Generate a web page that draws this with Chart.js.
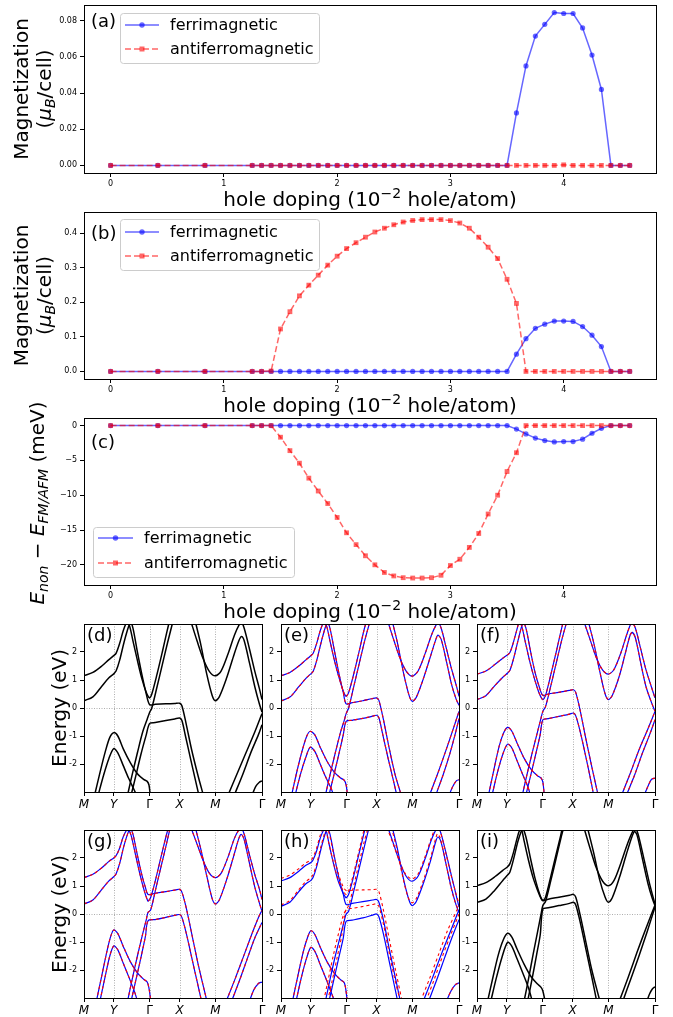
<!DOCTYPE html>
<html>
<head>
<meta charset="utf-8">
<script src="https://cdn.jsdelivr.net/npm/chart.js@4.4.0/dist/chart.umd.min.js"></script>
<style>
  body { margin: 0; background: #fff; width: 673px; height: 1017px; position: relative; overflow: hidden; }
  canvas { position: absolute; }
</style>
</head>
<body>
<script>
// ---- doping sweep (10^-2 hole/atom) ----
const hole = [0, 0.417, 0.833, 1.25, 1.333, 1.417, 1.5, 1.583, 1.667, 1.75, 1.833, 1.917, 2.0, 2.083,
  2.167, 2.25, 2.333, 2.417, 2.5, 2.583, 2.667, 2.75, 2.833, 2.917, 3.0, 3.083, 3.167, 3.25, 3.333,
  3.417, 3.5, 3.583, 3.667, 3.75, 3.833, 3.917, 4.0, 4.083, 4.167, 4.25, 4.333, 4.417, 4.5, 4.583];

// (a) magnetization
const magFerriA = [0, 0, 0, 0, 0, 0, 0, 0, 0, 0, 0, 0, 0, 0, 0, 0, 0, 0, 0, 0, 0, 0, 0, 0, 0, 0, 0, 0, 0, 0, 0,
  0.029, 0.055, 0.0715, 0.078, 0.0845, 0.084, 0.084, 0.076, 0.061, 0.042, 0, 0, 0];
const magAfmA = [0, 0, 0, 0, 0, 0, 0, 0, 0, 0, 0, 0, 0, 0, 0, 0, 0, 0, 0, 0, 0, 0, 0, 0, 0, 0, 0, 0, 0, 0, 0,
  0, 0, 0, 0, 0, 0.0003, 0, 0, 0, 0, 0, 0, 0];
// (b) magnetization
const magFerriB = [0, 0, 0, 0, 0, 0, 0, 0, 0, 0, 0, 0, 0, 0, 0, 0, 0, 0, 0, 0, 0, 0, 0, 0, 0, 0, 0, 0, 0, 0, 0,
  0.05, 0.095, 0.125, 0.137, 0.146, 0.146, 0.145, 0.13, 0.105, 0.072, 0, 0, 0];
const magAfmB = [0, 0, 0, 0, 0, 0.001, 0.123, 0.173, 0.219, 0.25, 0.279, 0.308, 0.334, 0.356, 0.373, 0.389,
  0.404, 0.415, 0.425, 0.433, 0.4375, 0.44, 0.44, 0.44, 0.437, 0.43, 0.415, 0.389, 0.36, 0.327, 0.267,
  0.197, 0, 0, 0, 0, 0, 0, 0, 0, 0, 0, 0, 0];
// (c) energy difference (meV)
const dEFerriC = [0, 0, 0, 0, 0, 0, 0, 0, 0, 0, 0, 0, 0, 0, 0, 0, 0, 0, 0, 0, 0, 0, 0, 0, 0, 0, 0, 0, 0, 0, 0,
  -0.5, -1.2, -1.8, -2.15, -2.35, -2.3, -2.3, -1.95, -1.1, -0.4, 0, 0, 0];
const dEAfmC = [0, 0, 0, 0, 0, 0, -1.67, -3.6, -5.4, -7.55, -9.4, -11.2, -13.2, -15.4, -17.1, -18.7, -20.0,
  -21.1, -21.6, -21.85, -21.9, -21.9, -21.85, -21.5, -20.1, -19.2, -17.5, -15.5, -12.7, -10.0, -6.6,
  -3.9, 0, 0, 0, 0, 0, 0, 0, 0, 0, 0, 0, 0];

const dopTicks = [0, 1, 2, 3, 4];
const magTicksA = [0, 0.02, 0.04, 0.06, 0.08];
const magTicksB = [0, 0.1, 0.2, 0.3, 0.4];
const dETicksC = [0, -5, -10, -15, -20];

// ---- band structures: k path fraction, energy (eV) ----
const kTicks = [0, 0.167, 0.369, 0.537, 0.738, 1];
const kLabels = ['M', 'Y', 'Γ', 'X', 'M', 'Γ'];
const eTicks = [-2, -1, 0, 1, 2];

const bandsD = [
  [[0,1.15],[0.05,1.27],[0.1,1.5],[0.14,1.73],[0.167,1.87],[0.18,1.95],[0.2,2.3],[0.22,2.75],[0.24,3.05],[0.255,2.95],[0.275,2.4],[0.3,1.7],[0.325,1.05],[0.35,0.55],[0.362,0.4],[0.369,0.36],[0.38,0.48],[0.41,1.2],[0.44,2.0],[0.465,2.7],[0.48,3.1]],
  [[0,0.26],[0.05,0.4],[0.1,0.78],[0.14,1.08],[0.167,1.22],[0.18,1.32],[0.2,1.7],[0.225,2.35],[0.25,2.9],[0.262,3.05],[0.275,2.85],[0.3,2.0],[0.325,1.2],[0.35,0.5],[0.369,0.12],[0.4,0.13],[0.46,0.15],[0.51,0.16],[0.537,0.17],[0.55,0.08],[0.575,-0.6],[0.605,-1.5],[0.64,-2.4],[0.67,-3.1]],
  [[0.245,-3.1],[0.27,-2.4],[0.3,-1.6],[0.33,-0.85],[0.355,-0.4],[0.369,-0.15],[0.38,-0.02],[0.41,0.75],[0.44,1.55],[0.47,2.35],[0.5,3.1]],
  [[0.265,-3.1],[0.29,-2.45],[0.32,-1.65],[0.35,-0.95],[0.369,-0.55],[0.4,-0.52],[0.46,-0.45],[0.51,-0.39],[0.537,-0.36],[0.55,-0.45],[0.57,-1.0],[0.6,-1.85],[0.625,-2.55],[0.645,-3.1]],
  [[0.06,-3.1],[0.09,-2.3],[0.12,-1.55],[0.145,-1.05],[0.167,-0.88],[0.19,-1.0],[0.22,-1.45],[0.26,-1.95],[0.3,-2.35],[0.335,-2.55],[0.355,-2.62],[0.365,-2.75],[0.372,-3.1]],
  [[0.08,-3.1],[0.11,-2.4],[0.14,-1.8],[0.167,-1.45],[0.19,-1.6],[0.22,-2.05],[0.25,-2.5],[0.28,-2.9],[0.295,-3.1]],
  [[0.6,3.1],[0.635,2.4],[0.67,1.75],[0.705,1.3],[0.738,1.15],[0.77,1.32],[0.81,1.95],[0.845,2.6],[0.87,2.95],[0.885,3.05],[0.9,2.85],[0.93,2.1],[0.96,1.3],[0.985,0.7],[1.0,0.3]],
  [[0.625,3.1],[0.655,2.3],[0.69,1.2],[0.72,0.45],[0.738,0.26],[0.76,0.4],[0.8,1.05],[0.84,1.85],[0.87,2.4],[0.885,2.55],[0.9,2.4],[0.93,1.6],[0.96,0.75],[0.985,0.15],[1.0,-0.15]],
  [[0.81,-3.1],[0.86,-2.35],[0.91,-1.6],[0.96,-0.85],[1.0,-0.2]],
  [[0.845,-3.1],[0.89,-2.4],[0.94,-1.55],[0.98,-0.95],[1.0,-0.6]],
  [[0.945,-3.1],[0.965,-2.8],[0.985,-2.65],[1.0,-2.6]]
];

const bandsE = [
  [[0,1.15],[0.05,1.27],[0.1,1.5],[0.14,1.72],[0.164,1.85],[0.18,1.95],[0.2,2.3],[0.22,2.75],[0.24,3.05],[0.255,2.95],[0.275,2.4],[0.3,1.7],[0.325,1.1],[0.35,0.6],[0.36,0.46],[0.366,0.42],[0.38,0.55],[0.41,1.25],[0.44,2.05],[0.465,2.75],[0.48,3.1]],
  [[0,0.25],[0.05,0.39],[0.1,0.76],[0.14,1.06],[0.164,1.2],[0.18,1.3],[0.2,1.68],[0.225,2.33],[0.25,2.9],[0.262,3.05],[0.275,2.85],[0.3,2.05],[0.325,1.25],[0.35,0.55],[0.366,0.15],[0.4,0.19],[0.46,0.26],[0.51,0.33],[0.537,0.36],[0.55,0.27],[0.575,-0.4],[0.605,-1.35],[0.64,-2.35],[0.675,-3.1]],
  [[0.25,-3.1],[0.275,-2.4],[0.305,-1.6],[0.335,-0.85],[0.355,-0.45],[0.366,-0.2],[0.38,0.0],[0.41,0.8],[0.44,1.6],[0.47,2.4],[0.5,3.1]],
  [[0.27,-3.1],[0.295,-2.45],[0.325,-1.65],[0.35,-0.95],[0.366,-0.48],[0.4,-0.44],[0.46,-0.37],[0.51,-0.3],[0.537,-0.26],[0.55,-0.35],[0.57,-0.9],[0.6,-1.75],[0.63,-2.55],[0.65,-3.1]],
  [[0.06,-3.1],[0.09,-2.25],[0.12,-1.5],[0.145,-1.0],[0.164,-0.83],[0.19,-0.96],[0.22,-1.4],[0.26,-1.92],[0.3,-2.3],[0.335,-2.5],[0.355,-2.58],[0.366,-2.75],[0.373,-3.1]],
  [[0.08,-3.1],[0.11,-2.35],[0.14,-1.75],[0.164,-1.4],[0.19,-1.55],[0.22,-2.0],[0.25,-2.45],[0.28,-2.85],[0.295,-3.1]],
  [[0.6,3.1],[0.635,2.4],[0.67,1.75],[0.705,1.3],[0.737,1.14],[0.77,1.32],[0.81,1.95],[0.845,2.6],[0.87,2.95],[0.882,3.05],[0.9,2.85],[0.93,2.1],[0.96,1.35],[0.985,0.8],[1.0,0.42]],
  [[0.625,3.1],[0.655,2.3],[0.69,1.2],[0.72,0.44],[0.737,0.24],[0.76,0.38],[0.8,1.05],[0.84,1.85],[0.87,2.45],[0.882,2.6],[0.9,2.45],[0.93,1.65],[0.96,0.8],[0.985,0.3],[1.0,0.1]],
  [[0.835,-3.1],[0.88,-2.35],[0.93,-1.45],[0.97,-0.7],[1.0,-0.12]],
  [[0.87,-3.1],[0.91,-2.4],[0.95,-1.6],[0.98,-0.9],[1.0,-0.38]],
  [[0.945,-3.1],[0.965,-2.8],[0.985,-2.6],[1.0,-2.56]]
];

const bandsF = [
  [[0,1.21],[0.05,1.32],[0.1,1.55],[0.145,1.78],[0.172,1.9],[0.185,1.98],[0.2,2.25],[0.22,2.7],[0.237,3.05],[0.25,2.95],[0.27,2.4],[0.295,1.7],[0.32,1.1],[0.345,0.6],[0.36,0.38],[0.37,0.3],[0.385,0.45],[0.415,1.2],[0.445,2.0],[0.47,2.7],[0.485,3.1]],
  [[0,0.3],[0.05,0.44],[0.1,0.8],[0.145,1.1],[0.172,1.25],[0.185,1.35],[0.205,1.75],[0.23,2.4],[0.25,2.9],[0.26,3.05],[0.275,2.85],[0.3,2.05],[0.325,1.3],[0.35,0.75],[0.37,0.45],[0.4,0.5],[0.46,0.56],[0.52,0.63],[0.542,0.65],[0.555,0.55],[0.58,-0.1],[0.61,-1.05],[0.645,-2.1],[0.68,-3.1]],
  [[0.255,-3.1],[0.28,-2.4],[0.31,-1.6],[0.34,-0.85],[0.36,-0.35],[0.37,-0.12],[0.385,0.05],[0.415,0.8],[0.445,1.6],[0.475,2.4],[0.505,3.1]],
  [[0.275,-3.1],[0.3,-2.45],[0.33,-1.65],[0.355,-0.95],[0.37,-0.42],[0.4,-0.38],[0.46,-0.3],[0.52,-0.22],[0.542,-0.18],[0.555,-0.28],[0.58,-0.85],[0.61,-1.7],[0.635,-2.45],[0.655,-3.1]],
  [[0.065,-3.1],[0.095,-2.2],[0.125,-1.35],[0.15,-0.88],[0.172,-0.69],[0.195,-0.82],[0.225,-1.25],[0.265,-1.8],[0.305,-2.2],[0.34,-2.42],[0.36,-2.5],[0.37,-2.65],[0.378,-3.1]],
  [[0.085,-3.1],[0.115,-2.3],[0.145,-1.65],[0.172,-1.29],[0.195,-1.42],[0.225,-1.88],[0.255,-2.35],[0.285,-2.8],[0.3,-3.1]],
  [[0.6,3.1],[0.635,2.45],[0.67,1.8],[0.705,1.36],[0.738,1.21],[0.77,1.38],[0.81,2.0],[0.84,2.6],[0.86,2.95],[0.87,3.05],[0.89,2.85],[0.92,2.1],[0.95,1.35],[0.98,0.75],[1.0,0.36]],
  [[0.625,3.1],[0.655,2.35],[0.69,1.3],[0.72,0.5],[0.738,0.3],[0.76,0.45],[0.8,1.15],[0.835,2.0],[0.86,2.6],[0.872,2.7],[0.89,2.5],[0.92,1.6],[0.95,0.75],[0.98,0.2],[1.0,-0.12]],
  [[0.813,-3.1],[0.86,-2.35],[0.91,-1.5],[0.96,-0.75],[1.0,-0.12]],
  [[0.84,-3.1],[0.885,-2.4],[0.93,-1.6],[0.97,-0.95],[1.0,-0.42]],
  [[0.94,-3.1],[0.96,-2.8],[0.98,-2.55],[1.0,-2.5]]
];

const bandsG = [
  [[0,1.3],[0.05,1.42],[0.1,1.65],[0.14,1.88],[0.167,2.0],[0.18,2.08],[0.2,2.35],[0.22,2.75],[0.24,3.0],[0.25,3.02],[0.265,2.8],[0.29,2.1],[0.315,1.4],[0.34,0.8],[0.355,0.52],[0.36,0.46],[0.375,0.6],[0.405,1.3],[0.435,2.1],[0.46,2.75],[0.475,3.1]],
  [[0,0.36],[0.05,0.5],[0.1,0.88],[0.14,1.18],[0.167,1.33],[0.18,1.43],[0.2,1.8],[0.225,2.45],[0.25,2.95],[0.26,3.05],[0.275,2.85],[0.3,2.1],[0.325,1.4],[0.345,0.95],[0.36,0.7],[0.4,0.74],[0.46,0.8],[0.515,0.86],[0.537,0.88],[0.55,0.78],[0.575,0.2],[0.61,-0.85],[0.645,-1.9],[0.675,-2.7],[0.69,-3.1]],
  [[0.245,-3.1],[0.27,-2.35],[0.3,-1.5],[0.33,-0.7],[0.35,-0.2],[0.36,0.06],[0.375,0.15],[0.405,0.95],[0.435,1.75],[0.465,2.55],[0.485,3.1]],
  [[0.265,-3.1],[0.29,-2.4],[0.32,-1.55],[0.345,-0.8],[0.36,-0.24],[0.4,-0.2],[0.46,-0.12],[0.515,-0.04],[0.537,-0.02],[0.55,-0.12],[0.575,-0.7],[0.605,-1.55],[0.635,-2.4],[0.66,-3.1]],
  [[0.07,-3.1],[0.1,-2.2],[0.13,-1.3],[0.15,-0.8],[0.167,-0.57],[0.19,-0.7],[0.22,-1.15],[0.26,-1.7],[0.3,-2.1],[0.335,-2.33],[0.355,-2.43],[0.365,-2.65],[0.375,-3.1]],
  [[0.09,-3.1],[0.12,-2.2],[0.145,-1.5],[0.167,-1.14],[0.19,-1.28],[0.22,-1.75],[0.255,-2.3],[0.285,-2.8],[0.3,-3.1]],
  [[0.6,3.1],[0.635,2.5],[0.67,1.9],[0.705,1.45],[0.738,1.3],[0.77,1.45],[0.81,2.05],[0.845,2.7],[0.87,3.0],[0.884,3.05],[0.9,2.85],[0.93,2.1],[0.96,1.4],[0.985,0.9],[1.0,0.52]],
  [[0.625,3.1],[0.655,2.35],[0.69,1.35],[0.72,0.55],[0.738,0.36],[0.76,0.5],[0.8,1.2],[0.84,2.05],[0.87,2.7],[0.884,2.84],[0.9,2.65],[0.93,1.8],[0.96,0.95],[0.985,0.4],[1.0,0.1]],
  [[0.8,-3.1],[0.85,-2.3],[0.9,-1.45],[0.95,-0.6],[0.985,-0.05],[1.0,0.12]],
  [[0.83,-3.1],[0.875,-2.35],[0.92,-1.55],[0.96,-0.85],[1.0,-0.3]],
  [[0.93,-3.1],[0.955,-2.7],[0.98,-2.48],[1.0,-2.43]]
];

const bandsHBlue = [
  [[0,1.18],[0.05,1.3],[0.1,1.53],[0.14,1.74],[0.168,1.84],[0.18,1.93],[0.2,2.25],[0.22,2.7],[0.24,3.0],[0.252,3.02],[0.27,2.5],[0.295,1.8],[0.32,1.2],[0.345,0.8],[0.36,0.62],[0.366,0.58],[0.38,0.7],[0.41,1.4],[0.44,2.2],[0.465,2.85],[0.475,3.1]],
  [[0,0.28],[0.05,0.42],[0.1,0.8],[0.14,1.08],[0.168,1.2],[0.18,1.3],[0.2,1.68],[0.225,2.33],[0.25,2.9],[0.262,3.05],[0.275,2.85],[0.3,2.05],[0.325,1.3],[0.35,0.7],[0.366,0.34],[0.4,0.38],[0.46,0.44],[0.515,0.5],[0.537,0.52],[0.55,0.42],[0.575,-0.2],[0.605,-1.15],[0.64,-2.2],[0.67,-3.1]],
  [[0.25,-3.1],[0.275,-2.35],[0.305,-1.5],[0.335,-0.75],[0.355,-0.25],[0.366,0.0],[0.38,0.1],[0.41,0.85],[0.44,1.65],[0.47,2.45],[0.495,3.1]],
  [[0.27,-3.1],[0.295,-2.4],[0.325,-1.55],[0.35,-0.85],[0.366,-0.26],[0.4,-0.22],[0.46,-0.14],[0.515,-0.04],[0.537,0.0],[0.55,-0.1],[0.575,-0.7],[0.605,-1.6],[0.635,-2.5],[0.655,-3.1]],
  [[0.6,3.1],[0.635,2.45],[0.67,1.8],[0.705,1.33],[0.737,1.17],[0.77,1.35],[0.81,1.98],[0.845,2.65],[0.87,3.0],[0.885,3.08],[0.9,2.85],[0.93,2.1],[0.96,1.3],[0.985,0.65],[1.0,0.25]],
  [[0.625,3.1],[0.655,2.3],[0.69,1.2],[0.72,0.48],[0.737,0.3],[0.76,0.45],[0.8,1.1],[0.84,1.9],[0.87,2.6],[0.882,2.75],[0.9,2.55],[0.93,1.7],[0.96,0.85],[0.985,0.3],[1.0,0.05]],
  [[0.8,-3.1],[0.85,-2.3],[0.9,-1.45],[0.95,-0.65],[1.0,0.15]],
  [[0.83,-3.1],[0.875,-2.35],[0.92,-1.55],[0.96,-0.85],[1.0,-0.2]]
];
const bandsHRed = [
  [[0,1.27],[0.05,1.39],[0.1,1.62],[0.14,1.83],[0.168,1.93],[0.18,2.02],[0.2,2.35],[0.22,2.8],[0.238,3.05],[0.25,3.02],[0.268,2.55],[0.29,1.95],[0.315,1.35],[0.34,0.95],[0.358,0.74],[0.366,0.7],[0.38,0.82],[0.41,1.5],[0.44,2.3],[0.462,2.9],[0.472,3.1]],
  [[0,0.33],[0.05,0.48],[0.1,0.87],[0.14,1.16],[0.168,1.3],[0.18,1.4],[0.2,1.78],[0.225,2.43],[0.248,2.95],[0.258,3.05],[0.272,2.85],[0.297,2.1],[0.322,1.45],[0.347,1.0],[0.366,0.84],[0.4,0.85],[0.46,0.86],[0.515,0.87],[0.537,0.88],[0.55,0.8],[0.575,0.15],[0.61,-0.95],[0.645,-2.05],[0.68,-3.1]],
  [[0.24,-3.1],[0.265,-2.35],[0.295,-1.45],[0.325,-0.65],[0.35,-0.05],[0.366,0.16],[0.38,0.3],[0.41,1.05],[0.44,1.85],[0.468,2.6],[0.49,3.1]],
  [[0.262,-3.1],[0.287,-2.4],[0.317,-1.5],[0.342,-0.75],[0.366,0.16],[0.4,0.2],[0.46,0.27],[0.515,0.34],[0.537,0.36],[0.55,0.27],[0.575,-0.35],[0.605,-1.3],[0.64,-2.35],[0.67,-3.1]],
  [[0.595,3.1],[0.63,2.5],[0.665,1.9],[0.7,1.42],[0.737,1.25],[0.77,1.43],[0.81,2.06],[0.845,2.72],[0.865,3.02],[0.88,3.1],[0.895,2.95],[0.925,2.2],[0.955,1.4],[0.98,0.8],[1.0,0.35]],
  [[0.62,3.1],[0.65,2.35],[0.685,1.3],[0.715,0.58],[0.737,0.4],[0.76,0.55],[0.8,1.2],[0.84,2.0],[0.87,2.72],[0.88,2.87],[0.895,2.7],[0.925,1.85],[0.955,0.95],[0.98,0.4],[1.0,0.12]],
  [[0.785,-3.1],[0.835,-2.3],[0.885,-1.45],[0.935,-0.6],[1.0,0.3]],
  [[0.815,-3.1],[0.86,-2.35],[0.905,-1.55],[0.95,-0.8],[1.0,0.0]]
];
const bandsHCommon = [
  [[0.065,-3.1],[0.095,-2.2],[0.125,-1.35],[0.15,-0.82],[0.168,-0.6],[0.19,-0.73],[0.22,-1.18],[0.26,-1.72],[0.3,-2.12],[0.335,-2.35],[0.355,-2.45],[0.363,-2.65],[0.372,-3.1]],
  [[0.085,-3.1],[0.115,-2.25],[0.145,-1.55],[0.168,-1.19],[0.19,-1.33],[0.22,-1.8],[0.255,-2.35],[0.285,-2.85],[0.3,-3.1]],
  [[0.93,-3.1],[0.955,-2.75],[0.98,-2.52],[1.0,-2.46]]
];

const bandsI = [
  [[0,1.01],[0.05,1.12],[0.1,1.33],[0.145,1.56],[0.172,1.69],[0.185,1.8],[0.205,2.2],[0.225,2.7],[0.24,3.0],[0.25,3.02],[0.265,2.6],[0.29,1.9],[0.315,1.3],[0.34,0.85],[0.36,0.55],[0.37,0.48],[0.385,0.6],[0.415,1.35],[0.445,2.15],[0.47,2.8],[0.48,3.1]],
  [[0,0.42],[0.05,0.53],[0.1,0.85],[0.145,1.2],[0.172,1.39],[0.185,1.5],[0.205,1.95],[0.23,2.6],[0.25,2.97],[0.258,3.05],[0.275,2.75],[0.3,2.0],[0.325,1.3],[0.35,0.75],[0.37,0.48],[0.4,0.53],[0.46,0.6],[0.52,0.67],[0.542,0.7],[0.555,0.6],[0.58,-0.05],[0.61,-0.95],[0.645,-2.0],[0.69,-3.1]],
  [[0.265,-3.1],[0.29,-2.3],[0.315,-1.45],[0.34,-0.65],[0.36,0.0],[0.37,0.3],[0.385,0.45],[0.415,1.2],[0.445,2.0],[0.475,2.8],[0.488,3.1]],
  [[0.285,-3.1],[0.31,-2.3],[0.335,-1.45],[0.355,-0.75],[0.37,0.18],[0.4,0.22],[0.46,0.3],[0.52,0.38],[0.542,0.42],[0.555,0.32],[0.58,-0.3],[0.61,-1.2],[0.645,-2.25],[0.672,-3.1]],
  [[0.06,-3.1],[0.09,-2.25],[0.12,-1.45],[0.148,-0.92],[0.172,-0.69],[0.195,-0.82],[0.225,-1.25],[0.265,-1.8],[0.305,-2.25],[0.34,-2.5],[0.36,-2.62],[0.37,-2.75],[0.382,-3.1]],
  [[0.078,-3.1],[0.108,-2.3],[0.14,-1.55],[0.172,-1.01],[0.195,-1.15],[0.225,-1.6],[0.26,-2.15],[0.29,-2.65],[0.31,-3.1]],
  [[0.6,3.1],[0.635,2.35],[0.67,1.65],[0.705,1.18],[0.738,1.01],[0.77,1.2],[0.81,1.85],[0.845,2.5],[0.875,2.95],[0.89,3.05],[0.905,2.85],[0.935,2.05],[0.965,1.2],[0.985,0.7],[1.0,0.36]],
  [[0.62,3.1],[0.655,2.2],[0.69,1.2],[0.72,0.6],[0.738,0.42],[0.76,0.58],[0.8,1.3],[0.84,2.15],[0.87,2.75],[0.885,2.95],[0.9,2.8],[0.93,1.95],[0.96,1.1],[0.985,0.55],[1.0,0.3]],
  [[0.8,-3.1],[0.85,-2.25],[0.9,-1.35],[0.95,-0.5],[1.0,0.32]],
  [[0.82,-3.1],[0.865,-2.3],[0.91,-1.5],[0.955,-0.65],[1.0,0.25]],
  [[0.955,-3.1],[0.97,-2.85],[0.985,-2.68],[1.0,-2.6]]
];

// ---------------------------------------------------------------
Chart.defaults.font.family = "'DejaVu Sans'";
Chart.defaults.color = '#000';

const FONT = "'DejaVu Sans'";
const BLUE = 'rgba(0,0,255,0.6)';
const RED = 'rgba(255,0,0,0.6)';

function place(cl, ct, cw, ch) {
  const c = document.createElement('canvas');
  c.width = cw; c.height = ch;
  c.style.left = cl + 'px'; c.style.top = ct + 'px';
  c.style.width = cw + 'px'; c.style.height = ch + 'px';
  document.body.appendChild(c);
  return c;
}

// text made of pieces (sub/superscripts), centred or left aligned
function rich(ctx, segs, x, y, rot, align) {
  ctx.save();
  ctx.translate(x, y);
  if (rot) ctx.rotate(-Math.PI / 2);
  const f = s => (s.it ? 'italic ' : '') + s.s + 'px ' + FONT;
  const widths = segs.map(s => { ctx.font = f(s); return ctx.measureText(s.t).width; });
  let cx = align === 'left' ? 0 : -widths.reduce((a, b) => a + b, 0) / 2;
  ctx.fillStyle = '#000';
  ctx.textBaseline = 'alphabetic';
  ctx.textAlign = 'left';
  segs.forEach((s, i) => { ctx.font = f(s); ctx.fillText(s.t, cx, s.dy || 0); cx += widths[i]; });
  ctx.restore();
}

function legendBox(ctx, box, rows) {
  const [x0, y0, x1, y1] = box;
  ctx.save();
  ctx.beginPath();
  ctx.roundRect(x0 + 0.5, y0 + 0.5, x1 - x0, y1 - y0, 3);
  ctx.fillStyle = 'rgba(255,255,255,0.8)';
  ctx.fill();
  ctx.strokeStyle = '#cccccc';
  ctx.lineWidth = 1;
  ctx.stroke();
  rows.forEach(r => {
    ctx.strokeStyle = r.color;
    ctx.fillStyle = r.color;
    ctx.lineWidth = 1.5;
    ctx.setLineDash(r.dash || []);
    ctx.beginPath(); ctx.moveTo(r.x0, r.y); ctx.lineTo(r.x1, r.y); ctx.stroke();
    ctx.setLineDash([]);
    const mx = (r.x0 + r.x1) / 2;
    ctx.beginPath();
    if (r.square) ctx.rect(mx - 2.5, r.y - 2.5, 5, 5); else ctx.arc(mx, r.y, 2.7, 0, Math.PI * 2);
    ctx.fill();
    ctx.fillStyle = '#000';
    ctx.font = '16px ' + FONT;
    ctx.textBaseline = 'middle';
    ctx.fillText(r.text, r.tx, r.y + 1);
  });
  ctx.restore();
}

function legendRows(x0, x1, tx, yA, yB) {
  return [
    { color: BLUE, x0, x1, tx, y: yA, text: 'ferrimagnetic' },
    { color: RED, x0, x1, tx, y: yB, text: 'antiferromagnetic', dash: [6, 3], square: true }
  ];
}

const holeTitle = [{ t: 'hole doping (10', s: 20 }, { t: '−2', s: 14, dy: -8 }, { t: ' hole/atom)', s: 20 }];

// generic chart placed so that its plot area is at area = [L, T, R, B] in page pixels
function makeChart(cfg) {
  const { cl, ct, cw, ch, area } = cfg;
  const yW = area[0] - cl, xH = ct + ch - area[3];
  const padT = area[1] - ct, padR = cl + cw - area[2];
  const canvas = place(cl, ct, cw, ch);
  const tickGrid = { display: true, drawOnChartArea: false, drawTicks: true, tickLength: 4, color: '#000', tickColor: '#000', lineWidth: 1 };
  new Chart(canvas, {
    type: 'line',
    data: { datasets: cfg.datasets },
    options: {
      responsive: false, animation: false, events: [],
      layout: { padding: { top: padT, right: padR, left: 0, bottom: 0 } },
      plugins: { legend: { display: false }, tooltip: { enabled: false } },
      scales: {
        x: {
          type: 'linear', min: cfg.x.min, max: cfg.x.max,
          afterFit: s => { s.height = xH; },
          afterBuildTicks: s => { s.ticks = cfg.x.ticks.map(v => ({ value: v })); },
          ticks: { callback: cfg.x.fmt, font: cfg.x.font, color: '#000', padding: 2, maxRotation: 0, autoSkip: false },
          grid: tickGrid, border: { display: false }
        },
        y: {
          type: 'linear', min: cfg.y.min, max: cfg.y.max,
          afterFit: s => { s.width = yW; },
          afterBuildTicks: s => { s.ticks = cfg.y.ticks.map(v => ({ value: v })); },
          ticks: { callback: cfg.y.fmt, font: { family: FONT, size: 8 }, color: '#000', padding: 3, autoSkip: false },
          grid: tickGrid, border: { display: false }
        }
      }
    },
    plugins: [{
      id: 'deco',
      beforeDatasetsDraw(chart) {
        if (!cfg.guides) return;
        const { ctx, chartArea: a, scales } = chart;
        ctx.save();
        ctx.strokeStyle = '#999';
        ctx.lineWidth = 0.8;
        ctx.setLineDash([1, 1.5]);
        cfg.guides.x.forEach(v => {
          const px = Math.round(scales.x.getPixelForValue(v)) + 0.5;
          ctx.beginPath(); ctx.moveTo(px, a.top); ctx.lineTo(px, a.bottom); ctx.stroke();
        });
        cfg.guides.y.forEach(v => {
          const py = Math.round(scales.y.getPixelForValue(v)) + 0.5;
          ctx.beginPath(); ctx.moveTo(a.left, py); ctx.lineTo(a.right, py); ctx.stroke();
        });
        ctx.restore();
      },
      afterDatasetsDraw(chart) {
        const { ctx, chartArea: a } = chart;
        ctx.save();
        ctx.strokeStyle = '#000';
        ctx.lineWidth = 1;
        ctx.strokeRect(Math.round(a.left) + 0.5, Math.round(a.top) + 0.5, Math.round(a.right - a.left), Math.round(a.bottom - a.top));
        ctx.translate(-cl, -ct);
        cfg.draw(ctx);
        ctx.restore();
      }
    }]
  });
}

// ----- panels (a)-(c) -----
function series(vals, color, dashed) {
  return {
    data: hole.map((x, i) => ({ x, y: vals[i] })),
    borderColor: color, backgroundColor: color, borderWidth: 1.5,
    borderDash: dashed ? [6, 3] : [],
    pointStyle: dashed ? 'rect' : 'circle', pointRadius: dashed ? 3.4 : 2.6, pointBorderWidth: 0,
    tension: 0, order: dashed ? 0 : 1
  };
}
const dopX = { min: -0.235, max: 4.815, ticks: dopTicks, fmt: v => String(v), font: { family: FONT, size: 8 } };
const magTitle = (ctx, yc) => {
  rich(ctx, [{ t: 'Magnetization', s: 20 }], 28, yc, true);
  rich(ctx, [{ t: '(', s: 20 }, { t: 'μ', s: 20, it: true }, { t: 'B', s: 14, it: true, dy: 4 }, { t: '/cell)', s: 20 }], 51, yc, true);
};

makeChart({
  cl: 0, ct: -12, cw: 673, ch: 225, area: [84, 5, 656, 173],
  datasets: [series(magFerriA, BLUE, false), series(magAfmA, RED, true)],
  x: dopX,
  y: { min: -0.0042, max: 0.0887, ticks: magTicksA, fmt: v => v.toFixed(2) },
  draw(ctx) {
    magTitle(ctx, 89);
    rich(ctx, holeTitle, 370, 206, false);
    rich(ctx, [{ t: '(a)', s: 18 }], 91, 27, false, 'left');
    legendBox(ctx, [120, 13, 319, 63], legendRows(125, 159, 170, 25, 49));
  }
});

makeChart({
  cl: 0, ct: 200, cw: 673, ch: 219, area: [84, 212, 656, 379],
  datasets: [series(magFerriB, BLUE, false), series(magAfmB, RED, true)],
  x: dopX,
  y: { min: -0.022, max: 0.462, ticks: magTicksB, fmt: v => v.toFixed(1) },
  draw(ctx) {
    magTitle(ctx, 295.5);
    rich(ctx, holeTitle, 370, 412, false);
    rich(ctx, [{ t: '(b)', s: 18 }], 91, 239, false, 'left');
    legendBox(ctx, [120, 219, 319, 270], legendRows(125, 159, 170, 232, 256));
  }
});

makeChart({
  cl: 0, ct: 386, cw: 673, ch: 238, area: [84, 418, 656, 585],
  datasets: [series(dEFerriC, BLUE, false), series(dEAfmC, RED, true)],
  x: dopX,
  y: { min: -22.9, max: 1.09, ticks: dETicksC, fmt: v => (v < 0 ? '−' + (-v) : String(v)) },
  draw(ctx) {
    rich(ctx, [
      { t: 'E', s: 20, it: true }, { t: 'non', s: 14, it: true, dy: 4 },
      { t: ' − ', s: 20 },
      { t: 'E', s: 20, it: true }, { t: 'FM/AFM', s: 14, it: true, dy: 4 },
      { t: ' (meV)', s: 20 }
    ], 44, 503, true);
    rich(ctx, holeTitle, 370, 618, false);
    rich(ctx, [{ t: '(c)', s: 18 }], 91, 448, false, 'left');
    legendBox(ctx, [93, 527, 294, 577], legendRows(98, 133, 144, 538, 563));
  }
});

// ----- panels (d)-(i) -----
function bandSets(layers) {
  const out = [];
  layers.forEach((L, li) => {
    L.bands.forEach(b => out.push({
      data: b.map(p => ({ x: p[0], y: p[1] })),
      borderColor: L.color, borderWidth: L.width, borderDash: L.dash || [],
      pointRadius: 0, tension: 0.3, fill: false, order: layers.length - li
    }));
  });
  return out;
}
const kX = {
  min: 0, max: 1, ticks: kTicks, fmt: (v, i) => kLabels[i],
  font: c => ({ family: FONT, size: 12, style: kLabels[c.index] === 'Γ' ? 'normal' : 'italic' })
};
const eY = { min: -3, max: 3, ticks: eTicks, fmt: v => String(v) };

function bandPanel(cl, ct, cw, area, label, layers, withTitle) {
  makeChart({
    cl, ct, cw, ch: 200, area,
    datasets: bandSets(layers),
    x: kX, y: eY,
    guides: { x: kTicks.slice(1, 5), y: [0] },
    draw(ctx) {
      if (withTitle) rich(ctx, [{ t: 'Energy (eV)', s: 20 }], 66, (area[1] + area[3]) / 2, true);
      rich(ctx, [{ t: label, s: 18 }], area[0] + 3, area[1] + 17, false, 'left');
    }
  });
}
const black = b => [{ bands: b, color: '#000', width: 1.5 }];
const spin = (up, dn) => [{ bands: up, color: '#0000ff', width: 1.2 }, { bands: dn, color: '#ff0000', width: 1.1, dash: [3, 3] }];

bandPanel(0, 612, 270, [84, 624, 262, 792], '(d)', black(bandsD), true);
bandPanel(263, 612, 204, [281, 624, 459, 792], '(e)', spin(bandsE, bandsE), false);
bandPanel(459, 612, 206, [477, 624, 655, 792], '(f)', spin(bandsF, bandsF), false);
bandPanel(0, 818, 270, [84, 830, 262, 998], '(g)', spin(bandsG, bandsG), true);
bandPanel(263, 818, 204, [281, 830, 459, 998], '(h)',
  spin(bandsHBlue.concat(bandsHCommon), bandsHRed.concat(bandsHCommon)), false);
bandPanel(459, 818, 206, [477, 830, 655, 998], '(i)', black(bandsI), false);
</script>
</body>
</html>
